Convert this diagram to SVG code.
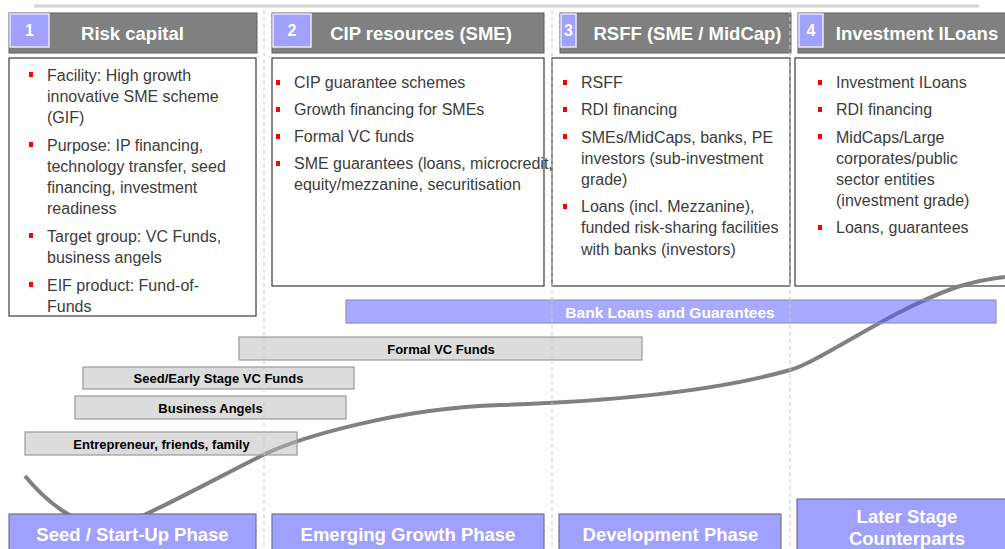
<svg xmlns="http://www.w3.org/2000/svg" width="1005" height="549" viewBox="0 0 1005 549">
<style>
.hbar{fill:#808080;stroke:#5f5f5f;stroke-width:1}
.num{fill:#a0a0ff;stroke:#e8e8ff;stroke-width:1.5}
.numt{font-family:"Liberation Sans",Arial,sans-serif;font-weight:bold;font-size:16px;fill:#fff;text-anchor:middle}
.ht{font-family:"Liberation Sans",Arial,sans-serif;font-weight:bold;font-size:18.5px;fill:#fff;text-anchor:middle}
.box{fill:none;stroke:#4a4a4a;stroke-width:1.3}
.bt{font-family:"Liberation Sans",Arial,sans-serif;font-size:16px;fill:#3c3c3c}
.bul{fill:#ff0000}
.gbar{fill:#b9b9b9;fill-opacity:0.5;stroke:#999;stroke-width:1.2}
.gt{font-family:"Liberation Sans",Arial,sans-serif;font-weight:bold;font-size:13px;fill:#000;text-anchor:middle}
.lbar{fill:#5353ff;fill-opacity:0.5;stroke:#9090c8;stroke-width:1.2}
.lt{font-family:"Liberation Sans",Arial,sans-serif;font-weight:bold;font-size:15.5px;fill:#fff;text-anchor:middle}
.phase{fill:#a0a0ff;stroke:#707090;stroke-width:1.2}
.pt{font-family:"Liberation Sans",Arial,sans-serif;font-weight:bold;font-size:18.5px;fill:#fff;text-anchor:middle}
.dash{stroke:#c8c8c8;stroke-width:1;stroke-dasharray:4 3;fill:none}
</style>
<line x1="34" y1="6" x2="979" y2="6" stroke="#d4d4d4" stroke-width="3"/>

<g id="header1">
<rect class="hbar" x="9" y="13" width="248" height="40"/>
<rect class="num" x="10" y="14" width="39" height="33"/>
<text class="numt" x="29.5" y="36">1</text>
<text class="ht" x="132.5" y="40">Risk capital</text>
</g>
<g id="header2">
<rect class="hbar" x="272" y="13" width="272" height="40"/>
<rect class="num" x="273" y="14" width="38" height="33"/>
<text class="numt" x="292" y="36">2</text>
<text class="ht" x="421" y="40">CIP resources (SME)</text>
</g>
<g id="header3">
<rect class="hbar" x="560" y="13" width="231" height="40"/>
<rect class="num" x="561" y="14" width="15" height="33"/>
<text class="numt" x="568.5" y="36">3</text>
<text class="ht" x="687.5" y="40">RSFF (SME / MidCap)</text>
</g>
<g id="header4">
<rect class="hbar" x="798" y="13" width="210" height="40"/>
<rect class="num" x="799" y="14" width="24" height="33"/>
<text class="numt" x="811" y="36">4</text>
<text class="ht" x="917" y="40">Investment ILoans</text>
</g>

<g id="box1">
<rect class="box" x="9" y="58" width="247" height="258"/>
<rect class="bul" x="29" y="72" width="4" height="5"/>
<text class="bt" x="47" y="81">Facility: High growth</text>
<text class="bt" x="47" y="102">innovative SME scheme</text>
<text class="bt" x="47" y="123">(GIF)</text>
<rect class="bul" x="29" y="142" width="4" height="5"/>
<text class="bt" x="47" y="150.5">Purpose: IP financing,</text>
<text class="bt" x="47" y="172">technology transfer, seed</text>
<text class="bt" x="47" y="193">financing, investment</text>
<text class="bt" x="47" y="214">readiness</text>
<rect class="bul" x="29" y="233" width="4" height="5"/>
<text class="bt" x="47" y="241.5">Target group: VC Funds,</text>
<text class="bt" x="47" y="263">business angels</text>
<rect class="bul" x="29" y="282" width="4" height="5"/>
<text class="bt" x="47" y="290.5">EIF product: Fund-of-</text>
<text class="bt" x="47" y="312">Funds</text>
</g>

<g id="box2">
<rect class="box" x="272" y="58" width="272" height="228"/>
<rect class="bul" x="276" y="80" width="4" height="5"/>
<text class="bt" x="294" y="88">CIP guarantee schemes</text>
<rect class="bul" x="276" y="107" width="4" height="5"/>
<text class="bt" x="294" y="115">Growth financing for SMEs</text>
<rect class="bul" x="276" y="134" width="4" height="5"/>
<text class="bt" x="294" y="142">Formal VC funds</text>
<rect class="bul" x="276" y="161" width="4" height="5"/>
<text class="bt" x="294" y="169">SME guarantees (loans, microcredit,</text>
<text class="bt" x="294" y="190">equity/mezzanine, securitisation</text>
</g>

<g id="box3">
<rect class="box" x="552" y="58" width="238" height="228"/>
<rect class="bul" x="563" y="80" width="4" height="5"/>
<text class="bt" x="581" y="88">RSFF</text>
<rect class="bul" x="563" y="107" width="4" height="5"/>
<text class="bt" x="581" y="115">RDI financing</text>
<rect class="bul" x="563" y="134" width="4" height="5"/>
<text class="bt" x="581" y="142.5">SMEs/MidCaps, banks, PE</text>
<text class="bt" x="581" y="163.5">investors (sub-investment</text>
<text class="bt" x="581" y="184.5">grade)</text>
<rect class="bul" x="563" y="204" width="4" height="5"/>
<text class="bt" x="581" y="212">Loans (incl. Mezzanine),</text>
<text class="bt" x="581" y="233">funded risk-sharing facilities</text>
<text class="bt" x="581" y="254.5">with banks (investors)</text>
</g>

<g id="box4">
<rect class="box" x="795" y="58" width="215" height="228"/>
<rect class="bul" x="818" y="80" width="4" height="5"/>
<text class="bt" x="836" y="88">Investment ILoans</text>
<rect class="bul" x="818" y="107" width="4" height="5"/>
<text class="bt" x="836" y="115">RDI financing</text>
<rect class="bul" x="818" y="134" width="4" height="5"/>
<text class="bt" x="836" y="142.5">MidCaps/Large</text>
<text class="bt" x="836" y="163.5">corporates/public</text>
<text class="bt" x="836" y="184.5">sector entities</text>
<text class="bt" x="836" y="205.5">(investment grade)</text>
<rect class="bul" x="818" y="225" width="4" height="5"/>
<text class="bt" x="836" y="233">Loans, guarantees</text>
</g>

<g id="connectors">
<path d="M25,476 C45,500 75,526 106,526 C130,526 170,502 263,455 C300,437 400,408 500,405 C620,401 720,390 790,370 C820,362 890,310 957,287 C980,280 995,278 1005,277" fill="none" stroke="#808080" stroke-width="4"/>
</g>

<g id="bankloans">
<rect class="lbar" x="346" y="300" width="650" height="23"/>
<text class="lt" x="670" y="317.5">Bank Loans and Guarantees</text>
</g>
<g id="formalvc">
<rect class="gbar" x="239" y="337" width="403" height="23"/>
<text class="gt" x="441" y="353.5">Formal VC Funds</text>
</g>
<g id="seedvc">
<rect class="gbar" x="83" y="367" width="271" height="22"/>
<text class="gt" x="218.5" y="383">Seed/Early Stage VC Funds</text>
</g>
<g id="angels">
<rect class="gbar" x="75" y="396" width="271" height="23"/>
<text class="gt" x="210.5" y="412.5">Business Angels</text>
</g>
<g id="entrepreneur">
<rect class="gbar" x="25" y="432" width="272" height="23"/>
<text class="gt" x="161.5" y="448.5">Entrepreneur, friends, family</text>
</g>

<g id="phase1">
<rect class="phase" x="9" y="514" width="247" height="40"/>
<text class="pt" x="132.5" y="540.5">Seed / Start-Up Phase</text>
</g>
<g id="phase2">
<rect class="phase" x="272" y="514" width="272" height="40"/>
<text class="pt" x="408" y="540.5">Emerging Growth Phase</text>
</g>
<g id="phase3">
<rect class="phase" x="559" y="514" width="222" height="40"/>
<text class="pt" x="670.5" y="540.5">Development Phase</text>
</g>
<g id="phase4">
<rect class="phase" x="797" y="499" width="215" height="55"/>
<text class="pt" x="907" y="523">Later Stage</text>
<text class="pt" x="907" y="545">Counterparts</text>
</g>

<g id="dividers">
<line class="dash" x1="264" y1="10" x2="264" y2="549"/>
<line class="dash" x1="552" y1="10" x2="552" y2="549"/>
<line class="dash" x1="790" y1="10" x2="790" y2="549"/>
</g>
</svg>
